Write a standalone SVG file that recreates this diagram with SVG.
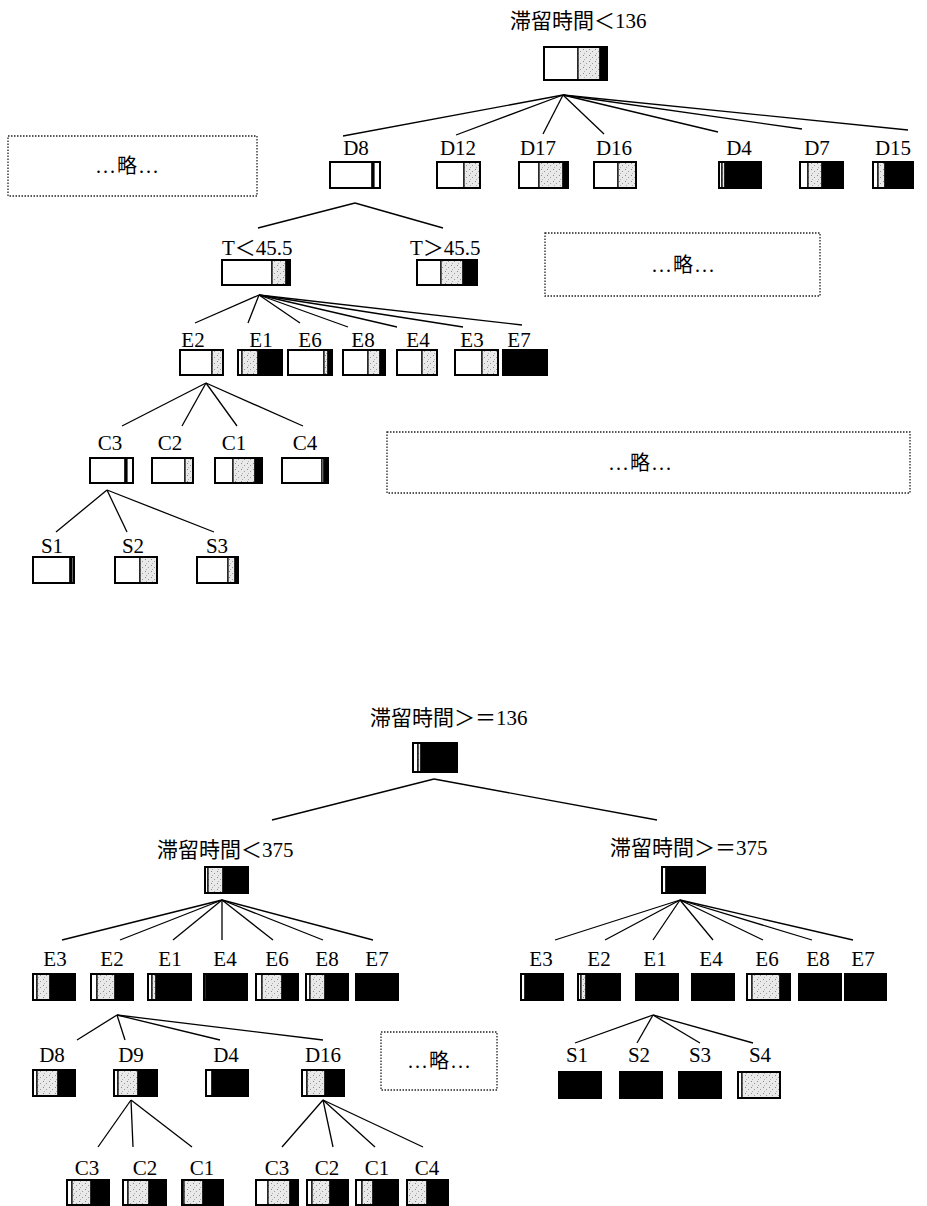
<svg xmlns="http://www.w3.org/2000/svg" width="927" height="1206" viewBox="0 0 927 1206">
<defs>
<pattern id="dots" width="6" height="6" patternUnits="userSpaceOnUse">
<rect width="6" height="6" fill="#e9e9e9"/>
<rect x="1" y="1" width="1" height="1" fill="#8a8a8a"/>
<rect x="4" y="3" width="1" height="1" fill="#9a9a9a"/>
<rect x="2" y="5" width="1" height="1" fill="#b0b0b0"/>
</pattern>
</defs>
<style>
text{font-family:"Liberation Serif","Noto Sans CJK JP",serif;font-size:21px;fill:#000}
.lb{text-anchor:middle}
.om{font-size:20px;text-anchor:middle;letter-spacing:2px}
.w{fill:#fff;stroke:#000;stroke-width:1.2}
.g{fill:url(#dots);stroke:#000;stroke-width:1.2}
.k{fill:#000;stroke:#000;stroke-width:1.2}
.o{fill:none;stroke:#000;stroke-width:2}
.dot{fill:#fff;stroke:#222;stroke-width:1.3;stroke-dasharray:1.5 1.5}
#connectors line{stroke:#000;stroke-width:1.3}
</style>
<rect width="927" height="1206" fill="#fff"/>

<g id="connectors">
<line x1="563" y1="95" x2="343" y2="136"/>
<line x1="563" y1="95" x2="456" y2="135"/>
<line x1="563" y1="95" x2="543" y2="134"/>
<line x1="563" y1="95" x2="604" y2="134"/>
<line x1="563" y1="95" x2="718" y2="132"/>
<line x1="563" y1="95" x2="802" y2="129"/>
<line x1="563" y1="95" x2="908" y2="130"/>
<line x1="355" y1="203" x2="258" y2="228"/>
<line x1="355" y1="203" x2="443" y2="228"/>
<line x1="259" y1="295" x2="195" y2="323"/>
<line x1="259" y1="295" x2="248" y2="323"/>
<line x1="259" y1="295" x2="300" y2="323"/>
<line x1="259" y1="295" x2="348" y2="327"/>
<line x1="259" y1="295" x2="397" y2="327"/>
<line x1="259" y1="295" x2="463" y2="327"/>
<line x1="259" y1="295" x2="522" y2="325"/>
<line x1="206" y1="383" x2="122" y2="426"/>
<line x1="206" y1="383" x2="182" y2="426"/>
<line x1="206" y1="383" x2="237" y2="426"/>
<line x1="206" y1="383" x2="303" y2="426"/>
<line x1="107" y1="490" x2="56" y2="532"/>
<line x1="107" y1="490" x2="127" y2="532"/>
<line x1="107" y1="490" x2="214" y2="532"/>
<line x1="434" y1="779" x2="272" y2="820"/>
<line x1="434" y1="779" x2="657" y2="820"/>
<line x1="222" y1="900" x2="62" y2="940"/>
<line x1="222" y1="900" x2="120" y2="940"/>
<line x1="222" y1="900" x2="173" y2="940"/>
<line x1="222" y1="900" x2="222" y2="940"/>
<line x1="222" y1="900" x2="273" y2="940"/>
<line x1="222" y1="900" x2="323" y2="940"/>
<line x1="222" y1="900" x2="373" y2="940"/>
<line x1="680" y1="900" x2="555" y2="940"/>
<line x1="680" y1="900" x2="605" y2="940"/>
<line x1="680" y1="900" x2="653" y2="940"/>
<line x1="680" y1="900" x2="713" y2="940"/>
<line x1="680" y1="900" x2="763" y2="940"/>
<line x1="680" y1="900" x2="812" y2="940"/>
<line x1="680" y1="900" x2="853" y2="940"/>
<line x1="117" y1="1015" x2="77" y2="1040"/>
<line x1="117" y1="1015" x2="125" y2="1040"/>
<line x1="117" y1="1015" x2="220" y2="1040"/>
<line x1="117" y1="1015" x2="323" y2="1040"/>
<line x1="653" y1="1015" x2="575" y2="1043"/>
<line x1="653" y1="1015" x2="637" y2="1043"/>
<line x1="653" y1="1015" x2="700" y2="1043"/>
<line x1="653" y1="1015" x2="753" y2="1043"/>
<line x1="131" y1="1100" x2="98" y2="1147"/>
<line x1="131" y1="1100" x2="133" y2="1147"/>
<line x1="131" y1="1100" x2="192" y2="1147"/>
<line x1="323" y1="1100" x2="282" y2="1147"/>
<line x1="323" y1="1100" x2="333" y2="1147"/>
<line x1="323" y1="1100" x2="375" y2="1147"/>
<line x1="323" y1="1100" x2="423" y2="1147"/>
</g>

<g id="omit1"><rect class="dot" x="8" y="136" width="249" height="60"/><text class="om" x="128" y="173">...略...</text></g>
<g id="omit2"><rect class="dot" x="545" y="233" width="275" height="63"/><text class="om" x="684" y="272">...略...</text></g>
<g id="omit3"><rect class="dot" x="387" y="432" width="523" height="61"/><text class="om" x="641" y="470">...略...</text></g>
<g id="omit4"><rect class="dot" x="381" y="1032" width="116" height="58"/><text class="om" x="440" y="1068">...略...</text></g>

<g id="root1"><text x="510" y="28">滞留時間＜136</text>
<rect class="w" x="544" y="47" width="34" height="33"/><rect class="g" x="578" y="47" width="22" height="33"/><rect class="k" x="600" y="47" width="7" height="33"/><rect class="o" x="544" y="47" width="63" height="33"/></g>

<g id="t-D8"><text class="lb" x="356" y="155">D8</text>
<rect class="w" x="330" y="162" width="42" height="26"/><rect class="k" x="372" y="162" width="2" height="26"/><rect class="w" x="374" y="162" width="6" height="26"/><rect class="o" x="330" y="162" width="50" height="26"/></g>
<g id="t-D12"><text class="lb" x="458" y="155">D12</text>
<rect class="w" x="437" y="162" width="27" height="26"/><rect class="g" x="464" y="162" width="16" height="26"/><rect class="o" x="437" y="162" width="43" height="26"/></g>
<g id="t-D17"><text class="lb" x="538" y="155">D17</text>
<rect class="w" x="519" y="162" width="20" height="26"/><rect class="g" x="539" y="162" width="24" height="26"/><rect class="k" x="563" y="162" width="5" height="26"/><rect class="o" x="519" y="162" width="49" height="26"/></g>
<g id="t-D16"><text class="lb" x="614" y="155">D16</text>
<rect class="w" x="594" y="162" width="24" height="26"/><rect class="g" x="618" y="162" width="18" height="26"/><rect class="o" x="594" y="162" width="42" height="26"/></g>
<g id="t-D4"><text class="lb" x="739" y="155">D4</text>
<rect class="w" x="719" y="162" width="3" height="26"/><rect class="g" x="722" y="162" width="3" height="26"/><rect class="k" x="725" y="162" width="36" height="26"/><rect class="o" x="719" y="162" width="42" height="26"/></g>
<g id="t-D7"><text class="lb" x="817" y="155">D7</text>
<rect class="w" x="800" y="162" width="8" height="26"/><rect class="g" x="808" y="162" width="14" height="26"/><rect class="k" x="822" y="162" width="21" height="26"/><rect class="o" x="800" y="162" width="43" height="26"/></g>
<g id="t-D15"><text class="lb" x="893" y="155">D15</text>
<rect class="w" x="873" y="162" width="5" height="26"/><rect class="g" x="878" y="162" width="7" height="26"/><rect class="k" x="885" y="162" width="28" height="26"/><rect class="o" x="873" y="162" width="40" height="26"/></g>

<g id="t-Tlt"><text x="222" y="255">T＜45.5</text>
<rect class="w" x="222" y="260" width="50" height="25"/><rect class="g" x="272" y="260" width="14" height="25"/><rect class="k" x="286" y="260" width="4" height="25"/><rect class="o" x="222" y="260" width="68" height="25"/></g>
<g id="t-Tgt"><text x="410" y="255">T＞45.5</text>
<rect class="w" x="417" y="260" width="24" height="25"/><rect class="g" x="441" y="260" width="22" height="25"/><rect class="k" x="463" y="260" width="14" height="25"/><rect class="o" x="417" y="260" width="60" height="25"/></g>

<g id="t-E2"><text class="lb" x="193" y="347">E2</text>
<rect class="w" x="180" y="350" width="32" height="25"/><rect class="g" x="212" y="350" width="11" height="25"/><rect class="o" x="180" y="350" width="43" height="25"/></g>
<g id="t-E1"><text class="lb" x="261" y="347">E1</text>
<rect class="w" x="238" y="350" width="4" height="25"/><rect class="g" x="242" y="350" width="16" height="25"/><rect class="k" x="258" y="350" width="24" height="25"/><rect class="o" x="238" y="350" width="44" height="25"/></g>
<g id="t-E6"><text class="lb" x="310" y="347">E6</text>
<rect class="w" x="288" y="350" width="36" height="25"/><rect class="g" x="324" y="350" width="4" height="25"/><rect class="k" x="328" y="350" width="4" height="25"/><rect class="o" x="288" y="350" width="44" height="25"/></g>
<g id="t-E8"><text class="lb" x="363" y="347">E8</text>
<rect class="w" x="343" y="350" width="25" height="25"/><rect class="g" x="368" y="350" width="12" height="25"/><rect class="k" x="380" y="350" width="5" height="25"/><rect class="o" x="343" y="350" width="42" height="25"/></g>
<g id="t-E4"><text class="lb" x="418" y="347">E4</text>
<rect class="w" x="397" y="350" width="25" height="25"/><rect class="g" x="422" y="350" width="15" height="25"/><rect class="o" x="397" y="350" width="40" height="25"/></g>
<g id="t-E3"><text class="lb" x="472" y="347">E3</text>
<rect class="w" x="455" y="350" width="27" height="25"/><rect class="g" x="482" y="350" width="16" height="25"/><rect class="o" x="455" y="350" width="43" height="25"/></g>
<g id="t-E7"><text class="lb" x="519" y="347">E7</text>
<rect class="k" x="503" y="350" width="44" height="25"/><rect class="o" x="503" y="350" width="44" height="25"/></g>

<g id="t-C3"><text class="lb" x="110" y="450">C3</text>
<rect class="w" x="90" y="458" width="35" height="25"/><rect class="k" x="125" y="458" width="2" height="25"/><rect class="w" x="127" y="458" width="6" height="25"/><rect class="o" x="90" y="458" width="43" height="25"/></g>
<g id="t-C2"><text class="lb" x="170" y="450">C2</text>
<rect class="w" x="152" y="458" width="33" height="25"/><rect class="g" x="185" y="458" width="8" height="25"/><rect class="o" x="152" y="458" width="41" height="25"/></g>
<g id="t-C1"><text class="lb" x="234" y="450">C1</text>
<rect class="w" x="215" y="458" width="18" height="25"/><rect class="g" x="233" y="458" width="22" height="25"/><rect class="k" x="255" y="458" width="7" height="25"/><rect class="o" x="215" y="458" width="47" height="25"/></g>
<g id="t-C4"><text class="lb" x="305" y="450">C4</text>
<rect class="w" x="282" y="458" width="40" height="25"/><rect class="w" x="322" y="458" width="2" height="25"/><rect class="k" x="324" y="458" width="4" height="25"/><rect class="o" x="282" y="458" width="46" height="25"/></g>

<g id="t-S1"><text class="lb" x="52" y="553">S1</text>
<rect class="w" x="33" y="557" width="37" height="26"/><rect class="k" x="70" y="557" width="2" height="26"/><rect class="w" x="72" y="557" width="2" height="26"/><rect class="o" x="33" y="557" width="41" height="26"/></g>
<g id="t-S2"><text class="lb" x="133" y="553">S2</text>
<rect class="w" x="115" y="557" width="25" height="26"/><rect class="g" x="140" y="557" width="17" height="26"/><rect class="o" x="115" y="557" width="42" height="26"/></g>
<g id="t-S3"><text class="lb" x="217" y="553">S3</text>
<rect class="w" x="197" y="557" width="31" height="26"/><rect class="g" x="228" y="557" width="7" height="26"/><rect class="k" x="235" y="557" width="3" height="26"/><rect class="o" x="197" y="557" width="41" height="26"/></g>

<g id="root2"><text x="370" y="725">滞留時間＞＝136</text>
<rect class="w" x="413" y="743" width="5" height="29"/><rect class="g" x="418" y="743" width="3" height="29"/><rect class="k" x="421" y="743" width="36" height="29"/><rect class="o" x="413" y="743" width="44" height="29"/></g>

<g id="b-lt375"><text x="157" y="857">滞留時間＜375</text>
<rect class="w" x="205" y="867" width="3" height="26"/><rect class="g" x="208" y="867" width="15" height="26"/><rect class="k" x="223" y="867" width="25" height="26"/><rect class="o" x="205" y="867" width="43" height="26"/></g>
<g id="b-ge375"><text x="610" y="855">滞留時間＞＝375</text>
<rect class="w" x="662" y="867" width="4" height="26"/><rect class="k" x="666" y="867" width="39" height="26"/><rect class="o" x="662" y="867" width="43" height="26"/></g>

<g id="bl-E3"><text class="lb" x="55" y="966">E3</text>
<rect class="w" x="33" y="974" width="4" height="26"/><rect class="g" x="37" y="974" width="13" height="26"/><rect class="k" x="50" y="974" width="25" height="26"/><rect class="o" x="33" y="974" width="42" height="26"/></g>
<g id="bl-E2"><text class="lb" x="112" y="966">E2</text>
<rect class="w" x="91" y="974" width="6" height="26"/><rect class="g" x="97" y="974" width="18" height="26"/><rect class="k" x="115" y="974" width="18" height="26"/><rect class="o" x="91" y="974" width="42" height="26"/></g>
<g id="bl-E1"><text class="lb" x="170" y="966">E1</text>
<rect class="w" x="148" y="974" width="4" height="26"/><rect class="g" x="152" y="974" width="4" height="26"/><rect class="k" x="156" y="974" width="35" height="26"/><rect class="o" x="148" y="974" width="43" height="26"/></g>
<g id="bl-E4"><text class="lb" x="225" y="966">E4</text>
<rect class="w" x="204" y="974" width="2" height="26"/><rect class="k" x="206" y="974" width="41" height="26"/><rect class="o" x="204" y="974" width="43" height="26"/></g>
<g id="bl-E6"><text class="lb" x="277" y="966">E6</text>
<rect class="w" x="256" y="974" width="6" height="26"/><rect class="g" x="262" y="974" width="20" height="26"/><rect class="k" x="282" y="974" width="16" height="26"/><rect class="o" x="256" y="974" width="42" height="26"/></g>
<g id="bl-E8"><text class="lb" x="327" y="966">E8</text>
<rect class="w" x="306" y="974" width="4" height="26"/><rect class="g" x="310" y="974" width="15" height="26"/><rect class="k" x="325" y="974" width="23" height="26"/><rect class="o" x="306" y="974" width="42" height="26"/></g>
<g id="bl-E7"><text class="lb" x="377" y="966">E7</text>
<rect class="k" x="356" y="974" width="42" height="26"/><rect class="o" x="356" y="974" width="42" height="26"/></g>

<g id="br-E3"><text class="lb" x="541" y="966">E3</text>
<rect class="w" x="521" y="974" width="4" height="26"/><rect class="k" x="525" y="974" width="38" height="26"/><rect class="o" x="521" y="974" width="42" height="26"/></g>
<g id="br-E2"><text class="lb" x="599" y="966">E2</text>
<rect class="w" x="578" y="974" width="3" height="26"/><rect class="g" x="581" y="974" width="5" height="26"/><rect class="k" x="586" y="974" width="34" height="26"/><rect class="o" x="578" y="974" width="42" height="26"/></g>
<g id="br-E1"><text class="lb" x="655" y="966">E1</text>
<rect class="k" x="636" y="974" width="42" height="26"/><rect class="o" x="636" y="974" width="42" height="26"/></g>
<g id="br-E4"><text class="lb" x="711" y="966">E4</text>
<rect class="k" x="692" y="974" width="42" height="26"/><rect class="o" x="692" y="974" width="42" height="26"/></g>
<g id="br-E6"><text class="lb" x="767" y="966">E6</text>
<rect class="w" x="747" y="974" width="5" height="26"/><rect class="g" x="752" y="974" width="28" height="26"/><rect class="k" x="780" y="974" width="10" height="26"/><rect class="o" x="747" y="974" width="43" height="26"/></g>
<g id="br-E8"><text class="lb" x="818" y="966">E8</text>
<rect class="k" x="799" y="974" width="42" height="26"/><rect class="o" x="799" y="974" width="42" height="26"/></g>
<g id="br-E7"><text class="lb" x="863" y="966">E7</text>
<rect class="k" x="845" y="974" width="41" height="26"/><rect class="o" x="845" y="974" width="41" height="26"/></g>

<g id="bl-D8"><text class="lb" x="52" y="1062">D8</text>
<rect class="w" x="33" y="1070" width="4" height="26"/><rect class="g" x="37" y="1070" width="21" height="26"/><rect class="k" x="58" y="1070" width="17" height="26"/><rect class="o" x="33" y="1070" width="42" height="26"/></g>
<g id="bl-D9"><text class="lb" x="131" y="1062">D9</text>
<rect class="w" x="114" y="1070" width="4" height="26"/><rect class="g" x="118" y="1070" width="20" height="26"/><rect class="k" x="138" y="1070" width="19" height="26"/><rect class="o" x="114" y="1070" width="43" height="26"/></g>
<g id="bl-D4"><text class="lb" x="226" y="1062">D4</text>
<rect class="w" x="206" y="1070" width="6" height="26"/><rect class="k" x="212" y="1070" width="36" height="26"/><rect class="o" x="206" y="1070" width="42" height="26"/></g>
<g id="bl-D16"><text class="lb" x="323" y="1062">D16</text>
<rect class="w" x="302" y="1070" width="5" height="26"/><rect class="g" x="307" y="1070" width="18" height="26"/><rect class="k" x="325" y="1070" width="19" height="26"/><rect class="o" x="302" y="1070" width="42" height="26"/></g>

<g id="br-S1"><text class="lb" x="577" y="1062">S1</text>
<rect class="k" x="559" y="1072" width="42" height="26"/><rect class="o" x="559" y="1072" width="42" height="26"/></g>
<g id="br-S2"><text class="lb" x="639" y="1062">S2</text>
<rect class="k" x="620" y="1072" width="42" height="26"/><rect class="o" x="620" y="1072" width="42" height="26"/></g>
<g id="br-S3"><text class="lb" x="700" y="1062">S3</text>
<rect class="k" x="679" y="1072" width="42" height="26"/><rect class="o" x="679" y="1072" width="42" height="26"/></g>
<g id="br-S4"><text class="lb" x="760" y="1062">S4</text>
<rect class="w" x="738" y="1072" width="4" height="26"/><rect class="g" x="742" y="1072" width="38" height="26"/><rect class="o" x="738" y="1072" width="42" height="26"/></g>

<g id="bl-C3a"><text class="lb" x="87" y="1175">C3</text>
<rect class="w" x="67" y="1180" width="5" height="25"/><rect class="g" x="72" y="1180" width="19" height="25"/><rect class="k" x="91" y="1180" width="18" height="25"/><rect class="o" x="67" y="1180" width="42" height="25"/></g>
<g id="bl-C2a"><text class="lb" x="145" y="1175">C2</text>
<rect class="w" x="123" y="1180" width="5" height="25"/><rect class="g" x="128" y="1180" width="21" height="25"/><rect class="k" x="149" y="1180" width="17" height="25"/><rect class="o" x="123" y="1180" width="43" height="25"/></g>
<g id="bl-C1a"><text class="lb" x="202" y="1175">C1</text>
<rect class="w" x="182" y="1180" width="2" height="25"/><rect class="g" x="184" y="1180" width="19" height="25"/><rect class="k" x="203" y="1180" width="20" height="25"/><rect class="o" x="182" y="1180" width="41" height="25"/></g>
<g id="bl-C3b"><text class="lb" x="277" y="1175">C3</text>
<rect class="w" x="256" y="1180" width="12" height="25"/><rect class="g" x="268" y="1180" width="22" height="25"/><rect class="k" x="290" y="1180" width="8" height="25"/><rect class="o" x="256" y="1180" width="42" height="25"/></g>
<g id="bl-C2b"><text class="lb" x="327" y="1175">C2</text>
<rect class="w" x="307" y="1180" width="5" height="25"/><rect class="g" x="312" y="1180" width="18" height="25"/><rect class="k" x="330" y="1180" width="18" height="25"/><rect class="o" x="307" y="1180" width="41" height="25"/></g>
<g id="bl-C1b"><text class="lb" x="377" y="1175">C1</text>
<rect class="w" x="356" y="1180" width="6" height="25"/><rect class="g" x="362" y="1180" width="11" height="25"/><rect class="k" x="373" y="1180" width="25" height="25"/><rect class="o" x="356" y="1180" width="42" height="25"/></g>
<g id="bl-C4b"><text class="lb" x="427" y="1175">C4</text>
<rect class="g" x="407" y="1180" width="20" height="25"/><rect class="k" x="427" y="1180" width="21" height="25"/><rect class="o" x="407" y="1180" width="41" height="25"/></g>
</svg>
